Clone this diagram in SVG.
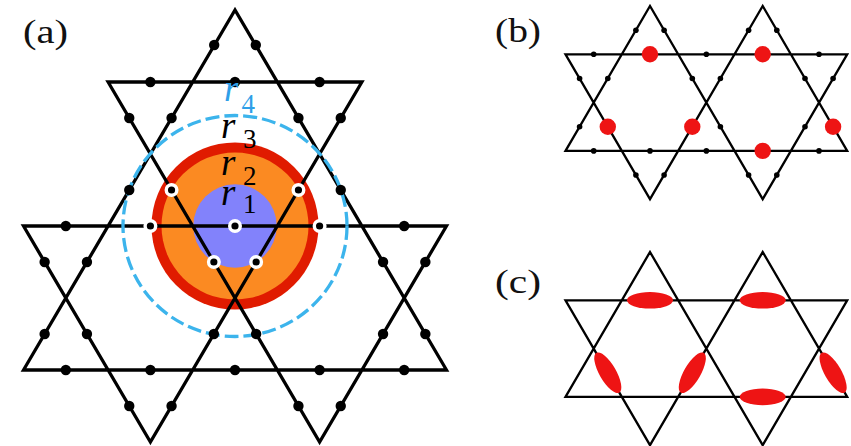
<svg xmlns="http://www.w3.org/2000/svg" width="851" height="446" viewBox="0 0 851 446">
<style>
.lat{fill:none;stroke:#000;stroke-linejoin:miter;stroke-miterlimit:10}
.la{stroke-width:3.3}
.lb{stroke-width:2.3}
.da{fill:#000}
.wr{fill:#000;stroke:#fff;stroke-width:3.4}
.red{fill:#ee1414}
.lbl{font-family:"Liberation Serif",serif;font-size:33px;fill:#111}
.rv{font-family:"Liberation Serif",serif;font-style:italic;font-size:37px}
.rs{font-family:"Liberation Serif",serif;font-size:27px}
</style>
<rect width="851" height="446" fill="#fff"/>
<g id="panel-a">
  <g id="a-disks">
    <circle cx="235" cy="226" r="83.5" fill="#e01b00"/>
    <circle cx="235" cy="226" r="73.5" fill="#fb8a22"/>
    <circle cx="235" cy="226" r="41.7" fill="#8282fb"/>
  </g>
  <path id="a-lattice" class="lat la" d="M235,10 L23.5,370 L446.5,370 Z M150.4,442 L23.5,226 L446.5,226 L319.6,442 L108.1,82 L361.9,82 Z"/>
  <ellipse id="a-r4-circle" cx="235" cy="226" rx="112" ry="110.5" fill="none" stroke="#3cb4ec" stroke-width="3.3" stroke-dasharray="14 5"/>
  <g id="a-dots">
    <circle class="da" cx="150.4" cy="82" r="5.2"/><circle class="da" cx="235" cy="82" r="5.2"/><circle class="da" cx="319.6" cy="82" r="5.2"/>
    <circle class="da" cx="65.8" cy="226" r="5.2"/><circle class="da" cx="404.2" cy="226" r="5.2"/>
    <circle class="da" cx="65.8" cy="370" r="5.2"/><circle class="da" cx="150.4" cy="370" r="5.2"/><circle class="da" cx="235" cy="370" r="5.2"/><circle class="da" cx="319.6" cy="370" r="5.2"/><circle class="da" cx="404.2" cy="370" r="5.2"/>
    <circle class="da" cx="214.2" cy="45" r="5.2"/><circle class="da" cx="255.8" cy="45" r="5.2"/>
    <circle class="da" cx="129.25" cy="118" r="5.2"/><circle class="da" cx="171.55" cy="118" r="5.2"/><circle class="da" cx="298.45" cy="118" r="5.2"/><circle class="da" cx="340.75" cy="118" r="5.2"/>
    <circle class="da" cx="129.25" cy="190" r="5.2"/><circle class="da" cx="340.75" cy="190" r="5.2"/>
    <circle class="da" cx="44.65" cy="262" r="5.2"/><circle class="da" cx="86.95" cy="262" r="5.2"/><circle class="da" cx="383.05" cy="262" r="5.2"/><circle class="da" cx="425.35" cy="262" r="5.2"/>
    <circle class="da" cx="44.65" cy="334" r="5.2"/><circle class="da" cx="86.95" cy="334" r="5.2"/><circle class="da" cx="213.85" cy="334" r="5.2"/><circle class="da" cx="256.15" cy="334" r="5.2"/><circle class="da" cx="383.05" cy="334" r="5.2"/><circle class="da" cx="425.35" cy="334" r="5.2"/>
    <circle class="da" cx="129.25" cy="406" r="5.2"/><circle class="da" cx="171.55" cy="406" r="5.2"/><circle class="da" cx="298.45" cy="406" r="5.2"/><circle class="da" cx="340.75" cy="406" r="5.2"/>
  </g>
  <g id="a-ringed-dots">
    <circle class="wr" cx="235" cy="226" r="5.3"/>
    <circle class="wr" cx="150.4" cy="226" r="5.3"/>
    <circle class="wr" cx="319.6" cy="226" r="5.3"/>
    <circle class="wr" cx="171.55" cy="190" r="5.3"/>
    <circle class="wr" cx="298.45" cy="190" r="5.3"/>
    <circle class="wr" cx="213.85" cy="262" r="5.3"/>
    <circle class="wr" cx="256.15" cy="262" r="5.3"/>
  </g>
  <g id="a-radius-labels">
    <text class="rv" x="224" y="101" fill="#2f9fe8">r</text><text class="rs" x="241.5" y="113" fill="#2f9fe8">4</text>
    <text class="rv" x="221" y="138" fill="#000">r</text><text class="rs" x="243" y="148" fill="#000">3</text>
    <text class="rv" x="221" y="175" fill="#000">r</text><text class="rs" x="243" y="185" fill="#000">2</text>
    <text class="rv" x="221" y="205" fill="#000">r</text><text class="rs" x="243" y="213" fill="#000">1</text>
  </g>
  <text id="label-a" class="lbl" x="23" y="43.3" textLength="45" lengthAdjust="spacingAndGlyphs">(a)</text>
</g>
<g id="panel-b">
  <path id="b-lattice" class="lat lb" d="M565.5,150.9 L650,6 L762.7,199.2 L847.2,54.3 L565.5,54.3 L650,199.2 L762.7,6 L847.2,150.9 Z"/>
  <g id="b-dots">
    <circle class="da" cx="593.7" cy="54.3" r="2.8"/><circle class="da" cx="706.35" cy="54.3" r="2.8"/><circle class="da" cx="819" cy="54.3" r="2.8"/>
    <circle class="da" cx="593.7" cy="150.9" r="2.8"/><circle class="da" cx="650" cy="150.9" r="2.8"/><circle class="da" cx="706.35" cy="150.9" r="2.8"/><circle class="da" cx="819" cy="150.9" r="2.8"/>
    <circle class="da" cx="635.9" cy="30.2" r="2.8"/><circle class="da" cx="664.1" cy="30.2" r="2.8"/><circle class="da" cx="748.6" cy="30.2" r="2.8"/><circle class="da" cx="776.8" cy="30.2" r="2.8"/>
    <circle class="da" cx="579.6" cy="78.45" r="2.8"/><circle class="da" cx="607.8" cy="78.45" r="2.8"/><circle class="da" cx="692.3" cy="78.45" r="2.8"/><circle class="da" cx="720.4" cy="78.45" r="2.8"/><circle class="da" cx="805" cy="78.45" r="2.8"/><circle class="da" cx="833.1" cy="78.45" r="2.8"/>
    <circle class="da" cx="579.6" cy="126.75" r="2.8"/><circle class="da" cx="720.4" cy="126.75" r="2.8"/><circle class="da" cx="805" cy="126.75" r="2.8"/>
    <circle class="da" cx="635.9" cy="175.05" r="2.8"/><circle class="da" cx="664.1" cy="175.05" r="2.8"/><circle class="da" cx="748.6" cy="175.05" r="2.8"/><circle class="da" cx="776.8" cy="175.05" r="2.8"/>
  </g>
  <g id="b-red-dots">
    <circle class="red" cx="650" cy="54.3" r="8.2"/>
    <circle class="red" cx="762.7" cy="54.3" r="8.2"/>
    <circle class="red" cx="607.8" cy="126.75" r="8.2"/>
    <circle class="red" cx="692.3" cy="126.75" r="8.2"/>
    <circle class="red" cx="833.1" cy="126.75" r="8.2"/>
    <circle class="red" cx="762.7" cy="150.9" r="8.2"/>
  </g>
  <text id="label-b" class="lbl" x="495" y="41.7" textLength="46" lengthAdjust="spacingAndGlyphs">(b)</text>
</g>
<g id="panel-c">
  <path id="c-lattice" class="lat lb" transform="translate(0,246)" d="M565.5,150.9 L650,6 L762.7,199.2 L847.2,54.3 L565.5,54.3 L650,199.2 L762.7,6 L847.2,150.9 Z"/>
  <g id="c-bond-ellipses">
    <ellipse class="red" cx="650" cy="300.3" rx="23" ry="8.3"/>
    <ellipse class="red" cx="762.7" cy="300.3" rx="23" ry="8.3"/>
    <ellipse class="red" cx="762.7" cy="396.9" rx="23" ry="8.3"/>
    <ellipse class="red" cx="607.8" cy="372.75" rx="23" ry="8.3" transform="rotate(60 607.8 372.75)"/>
    <ellipse class="red" cx="692.3" cy="372.75" rx="23" ry="8.3" transform="rotate(-60 692.3 372.75)"/>
    <ellipse class="red" cx="833.1" cy="372.75" rx="23" ry="8.3" transform="rotate(60 833.1 372.75)"/>
  </g>
  <text id="label-c" class="lbl" x="495" y="293.3" textLength="46" lengthAdjust="spacingAndGlyphs">(c)</text>
</g>
</svg>
